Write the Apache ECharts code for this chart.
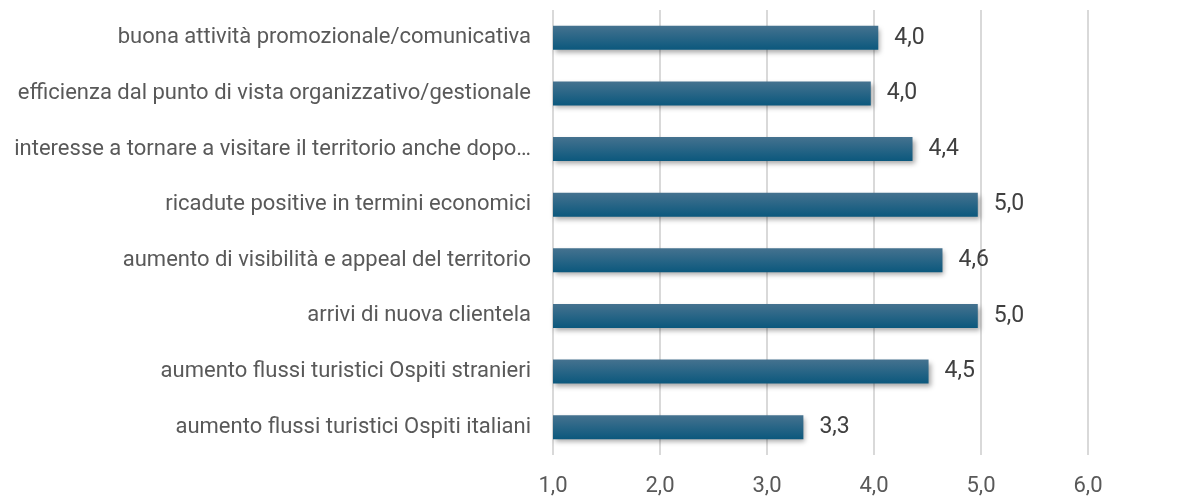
<!DOCTYPE html>
<html>
<head>
    <meta charset="utf-8">
    <title>valutazioni</title>
    <script src="https://cdn.jsdelivr.net/npm/echarts@6/dist/echarts.min.js"></script>
    <style>
        html, body { margin: 0; padding: 0; background: #fff; }
    </style>
</head>
<body>
    <div id="main" style="height: 498px; width: 1177px;"></div>
    <script type="text/javascript">
    // categorie, dal basso verso l'alto
    var categorie = [
        'aumento flussi turistici Ospiti italiani',
        'aumento flussi turistici Ospiti stranieri',
        'arrivi di nuova clientela',
        'aumento di visibilità e appeal del territorio',
        'ricadute positive in termini economici',
        'interesse a tornare a visitare il territorio anche dopo…',
        'efficienza dal punto di vista organizzativo/gestionale',
        'buona attività promozionale/comunicativa'
    ];
    var punteggi = [3.34, 4.51, 4.97, 4.64, 4.97, 4.36, 3.97, 4.04];
    var tickAsse = [1, 2, 3, 4, 5, 6];

    function virgola(v, d) {
        return v.toFixed(d).replace('.', ',');
    }

    var myChart = echarts.init(document.getElementById('main'));
    var option = {
        animation: false,
        textStyle: { fontFamily: 'Roboto, sans-serif' },
        grid: {
            left: 553,
            right: 89,
            top: 10,
            bottom: 43
        },
        xAxis: {
            type: 'value',
            min: tickAsse[0],
            max: tickAsse[tickAsse.length - 1],
            interval: 1,
            axisLine: { show: false },
            axisTick: { show: false },
            splitLine: { lineStyle: { color: '#d9d9d9', width: 2 } },
            axisLabel: {
                color: '#595959',
                fontSize: 22,
                margin: 20,
                formatter: function (v) { return virgola(v, 1); }
            }
        },
        yAxis: {
            type: 'category',
            data: categorie,
            axisLine: { show: false },
            axisTick: { show: false },
            axisLabel: {
                color: '#595959',
                fontSize: 22,
                margin: 22
            }
        },
        series: [{
            type: 'bar',
            data: punteggi,
            barWidth: 24,
            itemStyle: {
                color: {
                    type: 'linear', x: 0, y: 0, x2: 0, y2: 1,
                    colorStops: [
                        { offset: 0, color: '#45728f' },
                        { offset: 1, color: '#0b587d' }
                    ]
                },
                shadowColor: 'rgba(0,0,0,0.35)',
                shadowBlur: 5,
                shadowOffsetX: 2,
                shadowOffsetY: 3
            },
            label: {
                show: true,
                position: 'right',
                distance: 16,
                color: '#404040',
                fontSize: 23,
                formatter: function (p) { return virgola(p.value, 1); }
            }
        }]
    };
    myChart.setOption(option);
    </script>
</body>
</html>
